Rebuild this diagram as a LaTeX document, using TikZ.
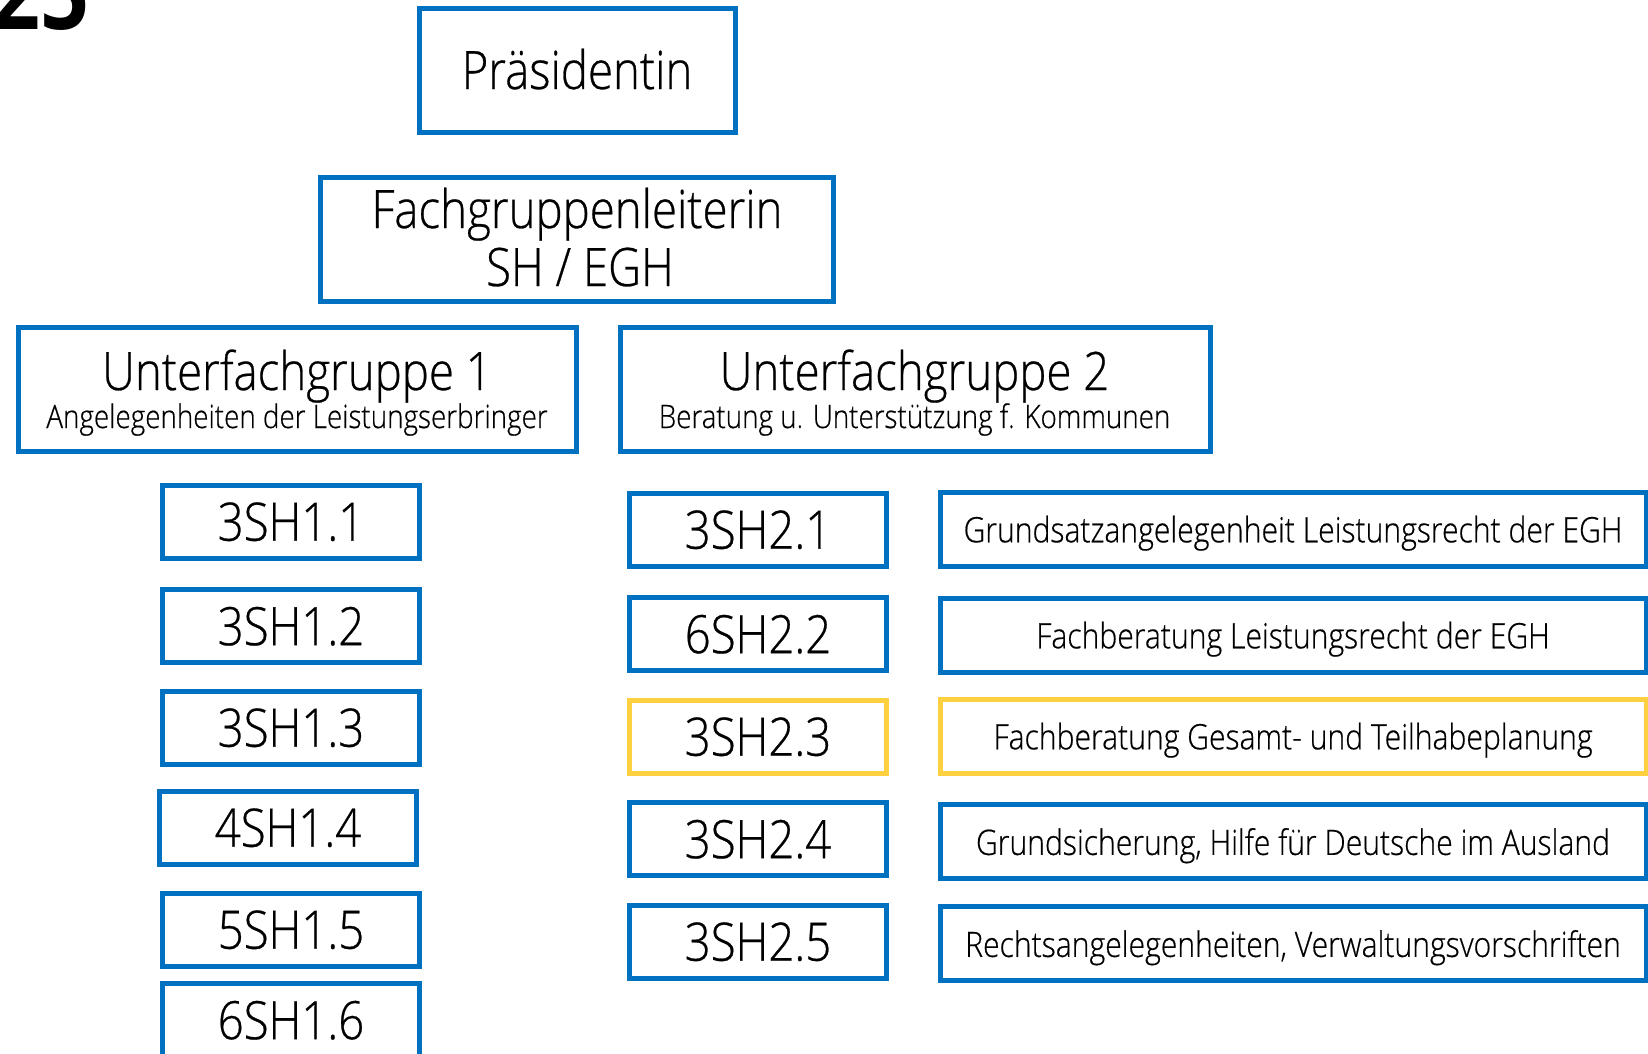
\documentclass[tikz,border=0pt]{standalone}
\usepackage{fontspec}
\setmainfont{Open Sans}[UprightFont=* Light, BoldFont=* Bold, FakeStretch=0.86, UprightFeatures={FakeBold=0.5}]
\definecolor{ublue}{RGB}{0,112,192}
\definecolor{uyellow}{RGB}{255,208,64}
\tikzset{
  box/.style={draw=ublue, line width=5pt, inner sep=0pt, text depth=0pt, align=center},
  big/.style={font=\fontsize{53}{60}\selectfont},
  sub/.style={font=\fontsize{32.3}{40}\selectfont},
  desc/.style={font=\fontsize{35}{44}\selectfont},
  codebox/.style={box, big, minimum width=257pt, minimum height=73pt},
  descbox/.style={box, desc, minimum width=706pt, minimum height=74pt},
  txt/.style={inner sep=0pt, anchor=base},
}
\begin{document}
\begin{tikzpicture}[x=1pt,y=-1pt]
\useasboundingbox (0,0) rectangle (1648,1053);
% partially visible page number
\node[txt, anchor=base east, font=\fontsize{100}{100}\selectfont\bfseries] (pg) at (90,29) {25};
% top boxes
\node[box, big, minimum width=316pt, minimum height=124pt] (pres) at (577,70) {};
\node[txt, big] (prest) at (577,89) {Präsidentin};
\node[box, minimum width=513pt, minimum height=124pt] (fgl) at (577,239) {};
\node[txt, big] (fglt1) at (577,228) {Fachgruppenleiterin};
\node[txt, big] (fglt2) at (580,286) {SH / EGH};
\node[box, minimum width=558pt, minimum height=124pt] (u1) at (297.5,389) {};
\node[txt, big] (u1t) at (297,390) {Unterfachgruppe 1};
\node[txt, sub] (u1s) at (297,428) {Angelegenheiten der Leistungserbringer};
\node[box, minimum width=590pt, minimum height=124pt] (u2) at (915.5,389) {};
\node[txt, big] (u2t) at (914.5,390) {Unterfachgruppe 2};
\node[txt, sub] (u2s) at (914.5,428) {Beratung u. Unterstützung f. Kommunen};
% left column
\node[codebox] (a1) at (291,521.5) {3SH1.1};
\node[codebox] (a2) at (291,626) {3SH1.2};
\node[codebox] (a3) at (291,727.5) {3SH1.3};
\node[codebox] (a4) at (288,827.5) {4SH1.4};
\node[codebox] (a5) at (291,929.5) {5SH1.5};
\node[codebox] (a6) at (291,1020) {6SH1.6};
% right column codes
\node[codebox] (b1) at (758,529.5) {3SH2.1};
\node[codebox] (b2) at (758,634) {6SH2.2};
\node[codebox, draw=uyellow] (b3) at (758,736.5) {3SH2.3};
\node[codebox] (b4) at (758,839) {3SH2.4};
\node[codebox] (b5) at (758,941.5) {3SH2.5};
% descriptions
\node[descbox] (d1) at (1293,529) {Grundsatzangelegenheit Leistungsrecht der EGH};
\node[descbox] (d2) at (1293,635) {Fachberatung Leistungsrecht der EGH};
\node[descbox, draw=uyellow] (d3) at (1293,736) {Fachberatung Gesamt- und Teilhabeplanung};
\node[descbox] (d4) at (1293,841.5) {Grundsicherung, Hilfe für Deutsche im Ausland};
\node[descbox] (d5) at (1293,943.5) {Rechtsangelegenheiten, Verwaltungsvorschriften};
\end{tikzpicture}
\end{document}
